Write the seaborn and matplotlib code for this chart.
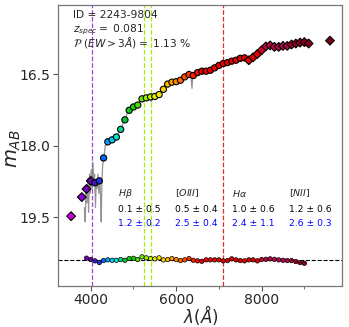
import matplotlib
matplotlib.use('Agg')
import matplotlib.pyplot as plt
from matplotlib.colors import LinearSegmentedColormap
import pandas as pd
import seaborn as sns

# photometry (J-PAS like filters)
phot_wave = [3540, 3790, 3900, 4000,
             4100, 4200, 4300, 4400, 4500, 4600, 4700, 4800, 4900, 5000,
             5100, 5200, 5300, 5400, 5500, 5600, 5700, 5800, 5900, 6000,
             6100, 6200, 6300, 6400, 6500, 6600, 6700, 6800, 6900, 7000,
             7100, 7200, 7300, 7400, 7500, 7600, 7700, 7800, 7900, 8000,
             8100, 8200, 8300, 8400, 8500, 8600, 8700, 8800, 8900, 9000,
             9100, 9600]
phot_mag = [19.48, 19.08, 18.91, 18.74,
            18.78, 18.74, 18.26, 17.92, 17.88, 17.82, 17.66, 17.46, 17.26, 17.19,
            17.15, 17.02, 17.00, 16.98, 16.97, 16.93, 16.82, 16.71, 16.67, 16.66,
            16.63, 16.56, 16.51, 16.53, 16.47, 16.44, 16.44, 16.42, 16.37, 16.32,
            16.28, 16.26, 16.23, 16.21, 16.17, 16.16, 16.21, 16.15, 16.08, 16.00,
            15.92, 15.90, 15.93, 15.93, 15.91, 15.91, 15.88, 15.86, 15.84, 15.83,
            15.86, 15.80]
phot_shape = ['D'] * 4 + ['o'] * 36 + ['D'] * 16

# spectrum (gray line)
spec_wave = [3850, 3870, 3890, 3910, 3930, 3950, 3970, 3990, 4010, 4030,
             4050, 4070, 4090, 4110, 4130, 4150, 4170, 4190, 4210, 4230,
             4245, 4260, 4280, 4300, 4320, 4340, 4360, 4380, 4400, 4430,
             4460, 4490, 4520, 4550, 4580, 4610, 4640, 4670, 4700, 4730,
             4760, 4790, 4820, 4850, 4880, 4910, 4940, 4970, 5000, 5030,
             5060, 5090, 5120, 5150, 5180, 5210, 5240, 5270, 5300, 5330,
             5360, 5390, 5420, 5450, 5480, 5510, 5540, 5570, 5600, 5650,
             5700, 5750, 5800, 5850, 5900, 5950, 6000, 6050, 6100, 6150,
             6200, 6250, 6300, 6340, 6370, 6390, 6450, 6500, 6550, 6600,
             6650, 6700, 6750, 6800, 6850, 6900, 6950, 7000, 7050, 7100,
             7150, 7200, 7250, 7300, 7350, 7400, 7450, 7500, 7550, 7600,
             7650, 7700, 7750, 7800, 7850, 7900, 7950, 8000, 8050, 8100,
             8150, 8200, 8250, 8300, 8350, 8400, 8450, 8500, 8550, 8600,
             8650, 8700, 8750, 8800, 8850, 8900, 8950, 9000, 9050, 9100,
             9150]
spec_mag = [19.30, 19.60, 18.90, 19.20, 18.70, 19.40, 18.60, 19.00, 18.50, 18.90,
            18.35, 18.80, 18.60, 19.30, 18.70, 18.90, 18.60, 19.00, 18.70, 19.10,
            19.60, 18.80, 18.40, 18.30, 18.15, 18.00, 17.95, 18.00, 17.90, 17.92,
            17.85, 17.90, 17.85, 17.88, 17.80, 17.84, 17.75, 17.72, 17.62, 17.60,
            17.52, 17.45, 17.40, 17.33, 17.30, 17.25, 17.22, 17.20, 17.22, 17.18,
            17.20, 17.14, 17.12, 17.05, 17.03, 17.00, 17.05, 16.98, 17.01, 16.99,
            17.00, 17.00, 17.08, 16.97, 16.96, 16.95, 16.97, 16.92, 16.90, 16.85,
            16.80, 16.75, 16.70, 16.69, 16.67, 16.66, 16.65, 16.64, 16.62, 16.58,
            16.55, 16.52, 16.50, 16.52, 16.80, 16.50, 16.50, 16.46, 16.45, 16.44,
            16.43, 16.43, 16.42, 16.41, 16.39, 16.36, 16.33, 16.31, 16.30, 16.27,
            16.26, 16.25, 16.24, 16.22, 16.21, 16.20, 16.18, 16.17, 16.16, 16.15,
            16.18, 16.20, 16.17, 16.14, 16.10, 16.06, 16.03, 15.99, 15.95, 15.92,
            15.90, 15.90, 15.92, 15.93, 15.93, 15.92, 15.92, 15.90, 15.90, 15.89,
            15.88, 15.86, 15.85, 15.84, 15.83, 15.82, 15.80, 15.79, 15.80, 15.78,
            15.80]

# residuals (phot - spec), drawn around a baseline
res_wave = list(range(3900, 9100, 100))
res_val = [-0.030, 0.000, 0.027, 0.063, 0.020, 0.006, 0.015, 0.015, 0.000, 0.015,
           -0.021, -0.027, 0.000, -0.057, -0.036, -0.021, -0.015, -0.036, 0.006, 0.000,
           -0.021, 0.000, 0.021, 0.006, -0.021, 0.015, 0.027, 0.036, 0.006, 0.006,
           0.006, 0.006, 0.027, 0.021, -0.015, 0.006, 0.021, 0.027, 0.006, 0.006,
           0.027, 0.000, -0.006, -0.015, -0.006, 0.006, 0.015, 0.021, 0.021, 0.042,
           0.063, 0.078]
res_base = 20.39

# emission lines at z_spec
line_wave = [4029, 5255, 5412, 7094]
line_color = ['#a040e0', '#a8f000', '#a8f000', '#e8282f']
line_names = [r'$H\beta$', r'$[OIII]$', r'$H\alpha$', r'$[NII]$']
ew_row1 = ['0.1 ± 0.5', '0.5 ± 0.4', '1.0 ± 0.6', '1.2 ± 0.6']
ew_row2 = ['1.2 ± 0.2', '2.5 ± 0.4', '2.4 ± 1.1', '2.6 ± 0.3']

sns.set_style("white")
plt.rcParams['font.family'] = ['DejaVu Sans']
plt.rcParams['mathtext.fontset'] = 'dejavusans'

cmap = LinearSegmentedColormap.from_list('lam', [
    (0.000, '#d000e0'), (0.049, '#8a00d0'), (0.074, '#6a0098'),
    (0.090, '#5a10b0'), (0.107, '#2a20e0'), (0.123, '#0050ff'),
    (0.139, '#0090ff'), (0.156, '#00c8ff'), (0.180, '#00e8d0'),
    (0.197, '#00d890'), (0.213, '#00c830'), (0.246, '#20d000'),
    (0.279, '#70f000'), (0.311, '#c8f000'), (0.344, '#f8e800'),
    (0.369, '#ffc000'), (0.402, '#ff9000'), (0.434, '#ff6000'),
    (0.467, '#ff2800'), (0.500, '#f00000'), (0.721, '#e00000'),
    (0.754, '#c0004a'), (0.836, '#a8104a'), (0.869, '#900020'),
    (1.000, '#700010')])
norm = (3500, 9600)

fig = plt.figure(figsize=(3.49, 3.27), dpi=100)
ax = fig.add_axes([0.167, 0.126, 0.814, 0.859])

for w, c in zip(line_wave, line_color):
    ax.axvline(w, color=c, ls='--', lw=0.9, zorder=1)
ax.axhline(res_base, color='black', ls='--', lw=0.8, zorder=1)

sns.lineplot(x=spec_wave, y=spec_mag, color='gray', lw=0.9, alpha=0.85,
             estimator=None, sort=False, ax=ax, zorder=2)

phot = pd.DataFrame({'wave': phot_wave, 'mag': phot_mag, 'shape': phot_shape})
sns.scatterplot(data=phot, x='wave', y='mag', hue='wave', hue_norm=norm,
                palette=cmap, style='shape', markers={'o': 'o', 'D': 'D'},
                s=20, edgecolor='black', linewidth=0.8, legend=False,
                ax=ax, zorder=3)

res = pd.DataFrame({'wave': res_wave, 'mag': [res_base + r for r in res_val]})
sns.scatterplot(data=res, x='wave', y='mag', hue='wave', hue_norm=norm,
                palette=cmap, s=10, edgecolor='black', linewidth=0.5,
                legend=False, ax=ax, zorder=3)

ax.set_xlim(3240, 9890)
ax.set_ylim(20.94, 15.05)
ax.set_xticks([4000, 6000, 8000])
ax.set_xticks([5000, 7000, 9000], minor=True)
ax.set_yticks([16.5, 18.0, 19.5])
ax.tick_params(axis='both', which='major', labelsize=10, length=3.5, width=0.8,
               direction='out', color='#555555', bottom=True, left=True, pad=2)
ax.tick_params(axis='x', which='minor', length=2, width=0.6, color='#555555', bottom=True)
for sp in ax.spines.values():
    sp.set_color('#777777')
    sp.set_linewidth(0.9)

ax.set_xlabel(r'$\lambda(\AA)$', fontsize=12)
ax.set_ylabel(r'$m_{AB}$', fontsize=14)
ax.xaxis.set_label_coords(0.5, -0.063)
ax.yaxis.set_label_coords(-0.125, 0.49)

ax.text(0.052, 0.964, 'ID = 2243-9804', transform=ax.transAxes, fontsize=7.7, va='center')
ax.text(0.052, 0.912, r'$z_{spec}=$ 0.081', transform=ax.transAxes, fontsize=7.7, va='center')
ax.text(0.052, 0.865, r'$\mathcal{P}\ (EW > 3\AA)=$ 1.13 %', transform=ax.transAxes,
        fontsize=7.7, va='center')

label_x = [0.21, 0.41, 0.61, 0.811]
for x, name, v1, v2 in zip(label_x, line_names, ew_row1, ew_row2):
    ax.text(x, 0.33, name, transform=ax.transAxes, fontsize=6.8, va='center')
    ax.text(x, 0.273, v1, transform=ax.transAxes, fontsize=6.6, va='center', color='black')
    ax.text(x, 0.223, v2, transform=ax.transAxes, fontsize=6.6, va='center', color='blue')

fig.savefig('out.png', dpi=100)
plt.close(fig)
